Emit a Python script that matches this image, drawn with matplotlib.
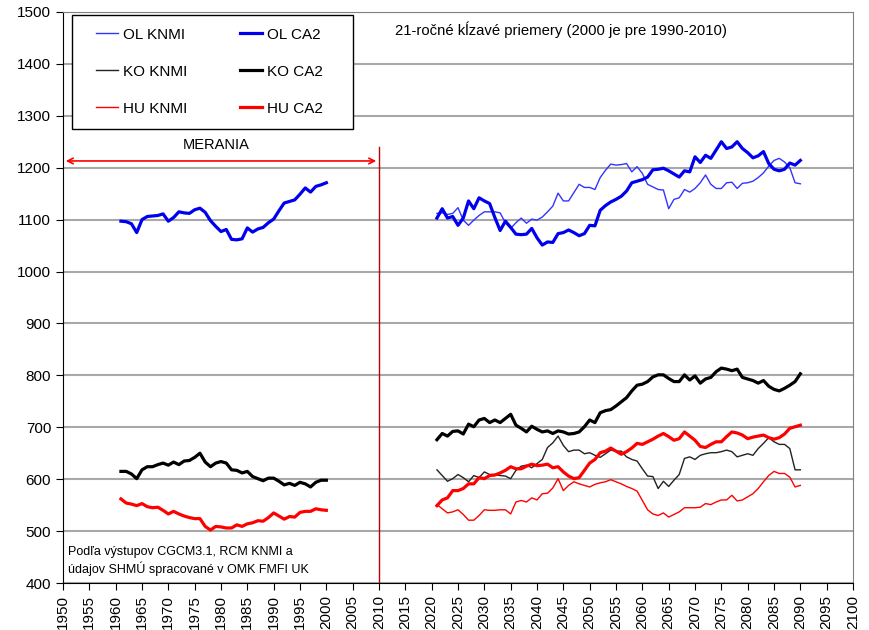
import matplotlib.pyplot as plt
import numpy as np
from matplotlib.legend_handler import HandlerBase
from matplotlib.lines import Line2D

plt.rcParams['font.family'] = ['Liberation Sans', 'DejaVu Sans']

# merania 1961-2000
roky_mer = np.arange(1961, 2001)
ol_mer = [1097, 1096, 1092, 1075, 1100, 1106, 1107, 1108, 1111, 1097,
          1104, 1115, 1113, 1112, 1119, 1122, 1114, 1098, 1087, 1077,
          1081, 1062, 1061, 1063, 1084, 1076, 1082, 1085, 1094, 1101,
          1117, 1132, 1135, 1138, 1149, 1161, 1153, 1164, 1167, 1171]
ko_mer = [615, 615, 610, 601, 618, 624, 624, 628, 631, 627,
          633, 628, 635, 636, 642, 650, 633, 624, 631, 634,
          631, 618, 617, 612, 615, 605, 601, 597, 602, 602,
          596, 589, 592, 588, 594, 591, 585, 594, 598, 598]
hu_mer = [562, 554, 552, 549, 553, 547, 545, 546, 540, 533,
          538, 533, 529, 526, 524, 524, 509, 502, 509, 508,
          506, 506, 512, 509, 514, 516, 520, 519, 526, 535,
          529, 523, 528, 527, 536, 538, 538, 543, 541, 540]

# scenare 2021-2090
roky = np.arange(2021, 2091)
ol_ca2 = [1103, 1121, 1103, 1106, 1089, 1103, 1136, 1121, 1142, 1136,
          1131, 1104, 1079, 1097, 1085, 1072, 1071, 1072, 1083, 1065,
          1051, 1057, 1056, 1073, 1075, 1080, 1075, 1069, 1073, 1089,
          1088, 1118, 1127, 1134, 1139, 1145, 1155, 1171, 1174, 1177,
          1182, 1196, 1197, 1199, 1194, 1188, 1182, 1194, 1192, 1221,
          1210, 1224, 1218, 1234, 1250, 1237, 1240, 1250, 1237, 1229,
          1219, 1223, 1231, 1208, 1197, 1194, 1197, 1209, 1205, 1214]
ol_knmi = [1112, 1113, 1110, 1112, 1123, 1099, 1089, 1099, 1108, 1115,
           1115, 1115, 1113, 1094, 1083, 1094, 1103, 1093, 1101, 1099,
           1105, 1115, 1126, 1151, 1136, 1136, 1152, 1168, 1162, 1162,
           1158, 1181, 1195, 1207, 1205, 1206, 1208, 1192, 1202, 1189,
           1168, 1163, 1158, 1157, 1121, 1139, 1142, 1158, 1153, 1160,
           1171, 1186, 1168, 1160, 1160, 1171, 1172, 1160, 1170, 1171,
           1174, 1181, 1190, 1203, 1214, 1218, 1211, 1200, 1171, 1169]
ko_ca2 = [676, 688, 683, 692, 693, 687, 706, 701, 714, 717,
          709, 714, 709, 717, 725, 704, 698, 691, 702, 696,
          691, 693, 688, 693, 691, 687, 688, 691, 701, 714,
          709, 728, 732, 734, 741, 749, 757, 770, 781, 783,
          788, 797, 801, 801, 794, 788, 788, 801, 791, 799,
          785, 793, 796, 807, 814, 812, 809, 812, 796, 793,
          790, 785, 790, 779, 773, 770, 775, 781, 788, 803]
ko_knmi = [618, 607, 596, 601, 609, 603, 595, 607, 603, 614,
           609, 609, 607, 606, 601, 617, 625, 627, 622, 630,
           638, 661, 670, 683, 665, 653, 656, 656, 649, 651,
           646, 642, 649, 656, 654, 654, 643, 638, 635, 620,
           606, 605, 582, 596, 586, 598, 609, 640, 643, 638,
           646, 649, 651, 651, 653, 656, 653, 643, 646, 649,
           646, 659, 669, 680, 672, 667, 667, 659, 618, 618]
hu_ca2 = [549, 560, 564, 578, 578, 582, 591, 591, 603, 601,
          607, 608, 612, 617, 624, 620, 620, 625, 629, 626,
          627, 629, 622, 624, 614, 606, 601, 603, 617, 631,
          638, 651, 654, 660, 654, 648, 653, 660, 669, 667,
          672, 677, 683, 688, 682, 675, 678, 691, 683, 675,
          663, 661, 667, 672, 672, 682, 691, 689, 685, 678,
          681, 683, 685, 680, 677, 680, 687, 698, 701, 704]
hu_knmi = [551, 543, 535, 537, 541, 532, 521, 521, 530, 541,
           540, 540, 541, 541, 533, 556, 559, 556, 564, 560,
           572, 573, 583, 601, 578, 588, 595, 591, 588, 585,
           590, 593, 595, 599, 595, 591, 586, 582, 577, 559,
           541, 533, 530, 535, 527, 532, 537, 545, 545, 545,
           546, 553, 551, 556, 560, 560, 569, 558, 560, 566,
           572, 582, 595, 607, 615, 611, 611, 604, 585, 588]


class PravaCiara(HandlerBase):
    # ciara v legende len v pravej casti
    def create_artists(self, legend, orig_handle, xdescent, ydescent,
                       width, height, fontsize, trans):
        y = (height - ydescent) / 2
        x0 = -xdescent + 0.33 * width
        x1 = -xdescent + width
        ln = Line2D([x0, x1], [y, y], color=orig_handle.get_color(),
                    lw=orig_handle.get_linewidth(), transform=trans)
        return [ln]


fig = plt.figure(figsize=(8.69, 6.30), dpi=100)
ax = fig.add_axes([0.0725, 0.0746, 0.9091, 0.9064])

modra_t = '#3333ff'
modra = '#0000ee'
cervena = '#ff0000'

# tenke KNMI
l1, = ax.plot(roky, ol_knmi, color=modra_t, lw=1, label='OL KNMI')
l3, = ax.plot(roky, ko_knmi, color='#222222', lw=1, label='KO KNMI')
l5, = ax.plot(roky, hu_knmi, color=cervena, lw=1, label='HU KNMI')
# hrube CA2 + merania (medzery vpravo kvoli sirke ramu legendy)
l2, = ax.plot(roky, ol_ca2, color=modra, lw=2.3, label='OL CA2    ')
l4, = ax.plot(roky, ko_ca2, color='black', lw=2.3, label='KO CA2    ')
l6, = ax.plot(roky, hu_ca2, color=cervena, lw=2.3, label='HU CA2    ')
ax.plot(roky_mer, ol_mer, color=modra, lw=2.3)
ax.plot(roky_mer, ko_mer, color='black', lw=2.3)
ax.plot(roky_mer, hu_mer, color=cervena, lw=2.3)

ax.set_xlim(1950, 2100)
ax.set_ylim(400, 1500)
ax.set_xticks(np.arange(1950, 2101, 5))
ax.set_yticks(np.arange(400, 1501, 100))
ax.tick_params(axis='x', labelrotation=90, labelsize=11, direction='out', length=5)
ax.tick_params(axis='y', labelsize=11, direction='out', length=5)
ax.grid(axis='y', color='#a8a8a8', lw=1.5)
ax.set_axisbelow(True)
for s in ['top', 'right']:
    ax.spines[s].set_color('#808080')

# merania
ax.plot([2010, 2010], [400, 1240], color='#c00000', lw=1)
ax.annotate('', xy=(1950, 1213), xytext=(2010, 1213),
            arrowprops=dict(arrowstyle='<->', color=cervena, lw=1.2))
ax.text(1979, 1243, 'MERANIA', ha='center', va='center', fontsize=10.5)

ax.text(2013, 1465, '21-ročné kĺzavé priemery (2000 je pre 1990-2010)',
        ha='left', va='center', fontsize=10.7)
ax.text(1951, 442, 'Podľa výstupov CGCM3.1, RCM KNMI a\núdajov SHMÚ spracované v OMK FMFI UK',
        ha='left', va='center', fontsize=9, linespacing=1.3)

leg = ax.legend(handles=[l1, l3, l5, l2, l4, l6], ncol=2, loc='upper left',
                bbox_to_anchor=(0.011, 0.995), fontsize=11, frameon=True,
                fancybox=False, edgecolor='black', framealpha=1,
                labelspacing=1.5, columnspacing=2.7, handlelength=2.2,
                handletextpad=0.3, borderpad=0.85, borderaxespad=0,
                handler_map={Line2D: PravaCiara()})
leg.get_frame().set_linewidth(1)

fig.savefig('out.png', dpi=100)
